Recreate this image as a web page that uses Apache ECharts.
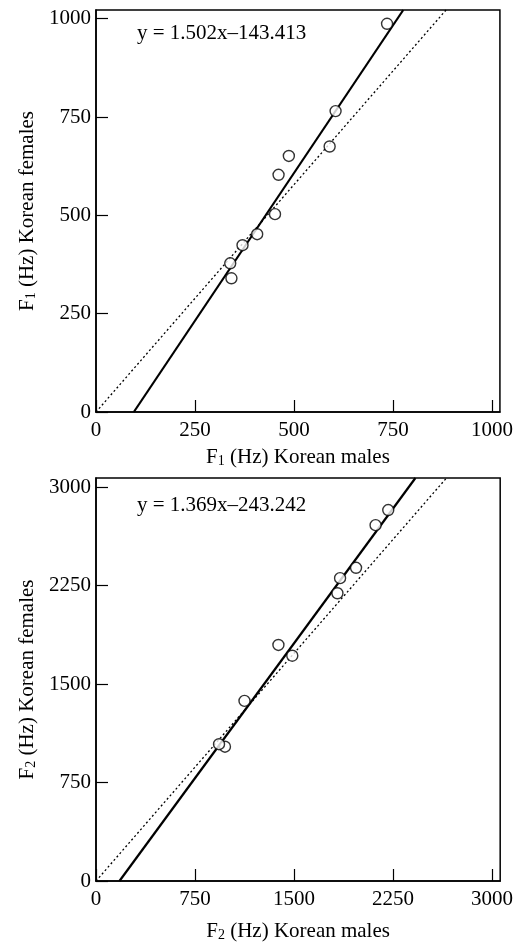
<!DOCTYPE html>
<html lang="en">

<head>
    <meta charset="UTF-8">
    <title>Korean formants</title>
    <script src="https://cdn.jsdelivr.net/npm/echarts@6/dist/echarts.min.js"></script>
    <style>
        html, body { margin: 0; padding: 0; background: #fff; }
        #chart1 { width: 516px; height: 945px; }
    </style>
</head>

<body>
    <div id="chart1"></div>
    <script>
        // F1: males (x) vs females (y)
        var f1Points = [
            [735, 987], [605, 765], [590, 675], [487, 651], [461, 603],
            [452, 503], [407, 452], [370, 424], [339, 378], [342, 340]
        ];
        // F2: males (x) vs females (y)
        var f2Points = [
            [2214, 2826], [2118, 2711], [1970, 2386], [1849, 2307], [1829, 2192],
            [1382, 1798], [1487, 1716], [1125, 1372], [977, 1023], [932, 1042]
        ];
        // regression lines (end points) and dotted reference lines
        var f1Fit = [[95.5, 0], [775.9, 1022]];
        var f2Fit = [[177.7, 0], [2420, 3070]];
        var f1Ref = [[0, 0], [884, 1022]];
        var f2Ref = [[0, 0], [2655, 3070]];
        var f1Ticks = { interval: 250, xMax: 1020, yMax: 1022 };
        var f2Ticks = { interval: 750, xMax: 3062, yMax: 3070 };
        var f1Eq = 'y = 1.502x\u2013143.413';
        var f2Eq = 'y = 1.369x\u2013243.242';

        var font = 'Liberation Serif';
        var rich = {
            n: { fontFamily: font, fontSize: 21, color: '#000' },
            s: { fontFamily: font, fontSize: 14, color: '#000', verticalAlign: 'bottom', padding: [8, 0, 0, 0] }
        };

        function xAx(idx, t, name, gap) {
            return {
                type: 'value', gridIndex: idx, min: 0, max: t.xMax, interval: t.interval,
                name: name, nameLocation: 'middle', nameGap: gap,
                nameTextStyle: { rich: rich },
                axisLine: { lineStyle: { color: '#000', width: 1.5 } },
                axisTick: { inside: true, length: 12, lineStyle: { color: '#000', width: 1.2 } },
                axisLabel: {
                    showMaxLabel: false, margin: 8, color: '#000', fontFamily: font, fontSize: 21,
                    formatter: function (v) { return String(v); }
                },
                splitLine: { show: false }
            };
        }
        function yAx(idx, t, name) {
            return {
                type: 'value', gridIndex: idx, min: 0, max: t.yMax, interval: t.interval,
                name: name, nameLocation: 'middle', nameGap: 58,
                nameTextStyle: { rich: rich },
                axisLine: { lineStyle: { color: '#000', width: 1.5 } },
                axisTick: { inside: true, length: 12, lineStyle: { color: '#000', width: 1.2 } },
                axisLabel: {
                    showMaxLabel: false, margin: 5, color: '#000', fontFamily: font, fontSize: 21,
                    formatter: function (v) { return String(v); }
                },
                splitLine: { show: false }
            };
        }
        function pts(idx, data) {
            return {
                type: 'scatter', xAxisIndex: idx, yAxisIndex: idx, data: data,
                symbol: 'circle', symbolSize: 11, z: 5,
                itemStyle: { color: '#fff', borderColor: '#000', borderWidth: 1.4 }
            };
        }
        function line(idx, data, dotted) {
            return {
                type: 'line', xAxisIndex: idx, yAxisIndex: idx, data: data,
                showSymbol: false, symbol: 'none', z: 3,
                lineStyle: dotted ? { color: '#000', width: 1.3, type: [2, 2.5] } : { color: '#000', width: 2.2 }
            };
        }

        var chart1 = echarts.init(document.getElementById('chart1'));
        chart1.setOption({
            animation: false,
            backgroundColor: '#fff',
            grid: [
                { left: 96, top: 10, width: 406, height: 402, show: true, borderColor: '#000', borderWidth: 1.5 },
                { left: 96, top: 478, width: 406, height: 403, show: true, borderColor: '#000', borderWidth: 1.5 }
            ],
            xAxis: [
                xAx(0, f1Ticks, '{n|F}{s|1}{n| (Hz) Korean males}', 34),
                xAx(1, f2Ticks, '{n|F}{s|2}{n| (Hz) Korean males}', 39)
            ],
            yAxis: [
                yAx(0, f1Ticks, '{n|F}{s|1}{n| (Hz) Korean females}'),
                yAx(1, f2Ticks, '{n|F}{s|2}{n| (Hz) Korean females}')
            ],
            graphic: [
                { type: 'text', left: 137, top: 23, style: { text: f1Eq, font: '21px "Liberation Serif"', fill: '#000' } },
                { type: 'text', left: 137, top: 495, style: { text: f2Eq, font: '21px "Liberation Serif"', fill: '#000' } }
            ],
            series: [
                line(0, f1Ref, true), line(0, f1Fit, false), pts(0, f1Points),
                line(1, f2Ref, true), line(1, f2Fit, false), pts(1, f2Points)
            ]
        });
    </script>
</body>

</html>
